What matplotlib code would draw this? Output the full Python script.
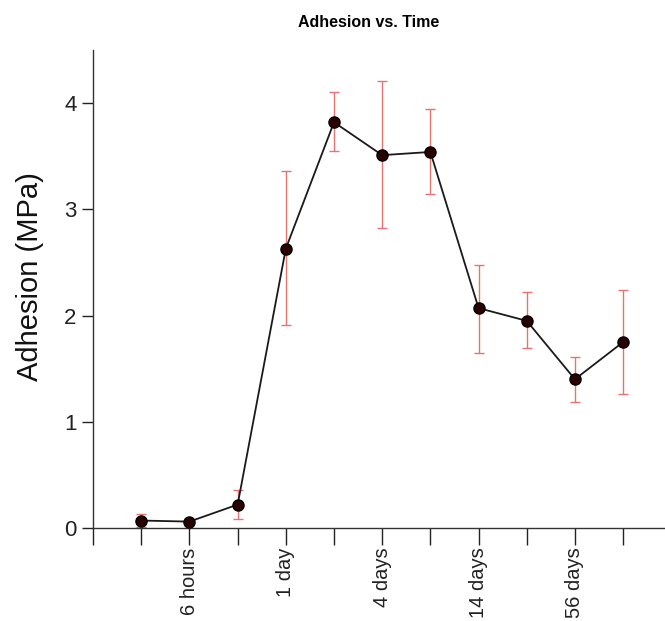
import matplotlib
matplotlib.use("Agg")
import matplotlib.pyplot as plt
import numpy as np

plt.rcParams['font.family'] = ['Liberation Sans', 'DejaVu Sans']

# x positions of the samples (every tick), labels on every other tick
positions = [1, 2, 3, 4, 5, 6, 7, 8, 9, 10, 11]
adhesion = [0.07, 0.06, 0.22, 2.63, 3.82, 3.51, 3.54, 2.07, 1.95, 1.40, 1.75]
err_up = [0.065, 0.01, 0.14, 0.73, 0.28, 0.70, 0.40, 0.41, 0.27, 0.21, 0.49]
err_down = [0.065, 0.01, 0.14, 0.72, 0.27, 0.69, 0.40, 0.42, 0.26, 0.21, 0.49]
tick_pos = list(range(12))
tick_labels = ['', '', '6 hours', '', '1 day', '', '4 days', '', '14 days', '', '56 days', '']

fig = plt.figure(figsize=(6.65, 6.21), dpi=100)
ax = fig.add_axes([0.14, 0.1498, 0.86, 0.7697])

ax.errorbar(positions, adhesion, yerr=[err_down, err_up], fmt='none',
            ecolor='#e27474', elinewidth=1.0, capsize=3.5, capthick=1.0, zorder=1)
ax.plot(positions, adhesion, color='#1a1a1a', linewidth=1.3, marker='o',
        markersize=8, markerfacecolor='#2a0000', markeredgecolor='black', zorder=3)

ax.set_xlim(0, 11.87)
ax.set_ylim(0, 4.5)
ax.set_yticks([0, 1, 2, 3, 4])
ax.set_xticks(tick_pos)
ax.set_xticklabels(tick_labels, rotation=90)

for s in ['top', 'right']:
    ax.spines[s].set_visible(False)
for s in ['left', 'bottom']:
    ax.spines[s].set_color('#333333')
    ax.spines[s].set_linewidth(1.0)

ax.tick_params(axis='y', direction='out', length=8, width=1, pad=4, labelsize=16, colors='#222222')
ax.tick_params(axis='x', direction='out', length=12, width=1, pad=2, labelsize=14.5, colors='#222222')

ax.set_ylabel('Adhesion (MPa)', fontsize=21, color='#111111')
ax.yaxis.set_label_coords(-0.086, 0.527)
fig.text(0.555, 0.963, 'Adhesion vs. Time', ha='center', va='center',
         fontsize=11.5, fontweight='bold')

fig.savefig('out.png', dpi=100)
